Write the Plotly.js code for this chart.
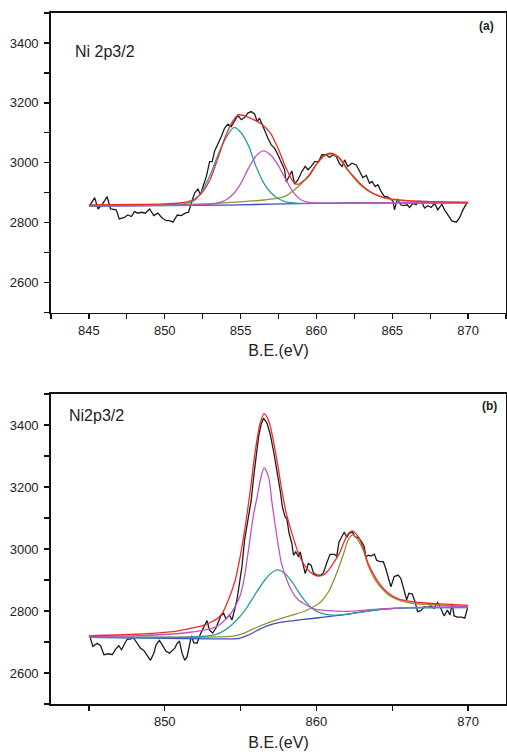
<!DOCTYPE html>
<html>
<head>
<meta charset="utf-8">
<script src="https://cdn.plot.ly/plotly-3.0.1.min.js"></script>
<style>
  html, body { margin: 0; padding: 0; background: #fff; }
  #chart { width: 507px; height: 752px; }
</style>
</head>
<body>
<div id="chart"></div>
<script>
// ---------- Panel (a): measured Ni 2p3/2 spectrum ----------
const aEnergy = [845.05,845.38,845.6,845.86,846.2,846.43,846.8,847.0,847.3,847.57,847.8,848.0,848.23,848.45,848.72,849.0,849.28,849.55,849.81,850.1,850.32,850.54,850.83,851.09,851.35,851.57,851.75,851.97,852.19,852.36,852.5,852.74,852.96,853.13,853.29,853.5,853.73,853.95,854.17,854.39,854.6,854.82,855.05,855.26,855.48,855.7,855.92,856.1,856.25,856.47,856.58,856.8,857.02,857.24,857.46,857.68,857.9,858.01,858.16,858.38,858.56,858.78,859.04,859.26,859.44,859.66,859.88,860.14,860.36,860.65,860.87,861.09,861.31,861.53,861.7,861.86,862.07,862.34,862.63,862.85,863.06,863.29,863.5,863.66,863.88,864.05,864.27,864.49,864.67,864.82,865.04,865.15,865.33,865.55,865.77,865.99,866.14,866.36,866.58,866.73,866.95,867.13,867.35,867.57,867.79,868.0,868.27,868.45,868.67,868.93,869.22,869.44,869.66,869.95];
const aCounts = [2857,2884,2846,2860,2887,2846,2843,2813,2817,2826,2821,2837,2832,2835,2832,2846,2824,2832,2817,2807,2807,2802,2826,2824,2832,2835,2865,2899,2913,2893,2918,2954,3004,3004,3040,3062,3088,3116,3129,3121,3138,3158,3144,3151,3166,3171,3163,3138,3149,3121,3105,3083,3060,3049,3027,2999,2977,2936,2949,2973,2929,2943,2971,2988,2977,2988,3004,3004,3027,3027,3018,3027,3021,2996,2988,3010,2988,2999,2993,2971,2951,2958,2932,2938,2921,2927,2904,2887,2887,2882,2873,2843,2880,2860,2857,2860,2851,2865,2860,2871,2869,2849,2857,2851,2865,2843,2862,2843,2824,2806,2802,2817,2843,2869];

// Panel (a) fitted components
const aBaseE = [845,850,854,856,858,860,862,866,870];
const aBase  = [2856,2857,2859,2861,2863,2865,2866,2867,2867];
const aPeak1E = [845,850,851,851.5,852,852.5,853,853.5,854,854.5,854.6,855,855.5,856,856.5,857,857.5,858,859,860,865,870];
const aPeak1  = [2857,2859,2861,2866,2876,2910,2960,3025,3080,3116,3118,3102,3060,2990,2935,2900,2880,2870,2865,2865,2866,2866];
const aPeak2E = [845,852,853,853.5,854,854.5,855,855.5,856,856.5,857,857.5,858,858.5,859,859.5,860,865,870];
const aPeak2  = [2857,2860,2862,2866,2875,2895,2930,2980,3022,3040,3025,2990,2943,2900,2876,2868,2866,2867,2867];
const aSatE = [845,850,853,855,856.5,857.5,858,858.5,859,859.5,860,860.5,860.9,861.3,861.8,862.2,862.6,863,863.5,864,864.5,865,866,868,870];
const aSat  = [2857,2860,2864,2870,2876,2882,2890,2908,2930,2960,2995,3022,3029,3024,2998,2968,2942,2922,2904,2891,2882,2877,2873,2870,2868];
const aEnvE = [845,848,850,851,851.5,852,852.5,853,853.5,854,854.5,854.85,855.2,855.6,856,856.5,857,857.5,858,858.5,858.75,859,859.5,860,860.5,860.9,861.3,861.6,862,862.5,863,863.5,864,864.5,865,866,867,868,870];
const aEnv  = [2860,2861,2863,2866,2870,2880,2903,2945,3015,3088,3140,3160,3158,3150,3141,3125,3097,3045,2982,2935,2928,2934,2955,2995,3024,3032,3026,3012,2980,2952,2925,2905,2892,2884,2879,2874,2871,2870,2868];

// ---------- Panel (b): measured Ni2p3/2 spectrum ----------
const bEnergy = [845.05,845.26,845.55,845.77,845.99,846.32,846.54,846.76,846.97,847.15,847.37,847.53,847.74,847.9,848.18,848.4,848.62,848.91,849.06,849.28,849.43,849.65,849.87,850.09,850.31,850.53,850.66,850.82,850.97,851.14,851.32,851.47,851.62,851.76,851.91,852.13,852.35,852.57,852.79,852.94,853.16,853.38,853.55,853.7,853.88,854.04,854.26,854.43,854.6,854.76,854.91,855.09,855.26,855.42,855.57,855.7,855.86,856.01,856.18,856.36,856.51,856.74,856.95,857.17,857.4,857.61,857.76,857.94,858.05,858.2,858.38,858.49,858.64,858.82,858.93,859.08,859.26,859.47,859.65,859.8,860.03,860.31,860.46,860.68,860.9,861.18,861.34,861.49,861.67,861.84,862.0,862.15,862.37,862.55,862.76,862.99,863.16,863.25,863.42,863.6,863.82,863.97,864.19,864.41,864.57,864.74,864.91,865.13,865.39,865.57,865.72,865.95,866.1,866.32,866.5,866.67,866.89,867.11,867.33,867.55,867.76,867.99,868.2,868.42,868.64,868.8,868.95,869.08,869.3,869.57,869.78,869.96];
const bCounts = [2720,2686,2696,2688,2659,2662,2659,2677,2688,2675,2696,2709,2709,2716,2696,2680,2673,2654,2641,2664,2691,2705,2686,2670,2664,2673,2680,2696,2702,2664,2641,2652,2691,2720,2698,2696,2726,2750,2769,2739,2729,2745,2766,2785,2793,2774,2787,2771,2803,2836,2884,2943,3028,3071,3125,3157,3232,3296,3360,3403,3422,3406,3371,3317,3253,3189,3135,3103,3098,3050,3018,2980,2991,2975,2991,2959,2921,2953,2948,2923,2916,2916,2923,2955,2983,2983,2977,3023,3039,3055,3037,3050,3055,3039,3037,3023,3007,2975,2980,2977,2983,2964,2959,2959,2937,2905,2878,2911,2916,2905,2878,2836,2857,2855,2830,2798,2801,2814,2812,2816,2809,2827,2809,2784,2803,2787,2823,2784,2780,2780,2777,2809];

// Panel (b) fitted components
const bBaseE = [845,850,853,854.3,854.9,855.5,856.2,856.8,857.6,858.5,859,860.3,862,863,864,865,866,867,870];
const bBase  = [2715,2712,2710,2710,2712,2722,2740,2753,2763,2769,2772,2779,2789,2797,2804,2808,2810,2811,2811];
const bPeak1E = [845,848,851.3,853.3,853.8,854.4,854.9,855.2,855.5,855.85,856.1,856.3,856.55,856.85,857.05,857.3,857.5,857.7,858.05,858.4,858.8,859.3,859.9,860.8,862,864,866,870];
const bPeak1  = [2718,2720,2729,2747,2763,2795,2840,2895,2990,3110,3170,3221,3262,3232,3157,3071,3007,2953,2900,2862,2836,2820,2806,2801,2799,2806,2811,2814];
const bPeak2E = [845,851.3,853.3,854,854.65,855.3,856,856.6,857,857.45,857.9,858.4,859,859.7,860.3,861,862,863,864,866,870];
const bPeak2  = [2715,2716,2723,2739,2766,2803,2857,2900,2922,2933,2922,2894,2848,2809,2793,2787,2790,2797,2804,2810,2812];
const bSatE = [845,853,854.5,855.2,856,856.8,857.6,858.5,859.25,859.9,860.3,860.8,861.1,861.45,861.8,862.1,862.4,862.75,863.1,863.4,863.85,864.3,864.75,865.4,866.3,867.4,868.5,870];
const bSat  = [2716,2716,2719,2728,2746,2762,2775,2788,2800,2816,2830,2862,2894,2937,2986,3030,3046,3028,2994,2948,2902,2873,2852,2836,2825,2821,2818,2815];
const bEnvE = [845,848,850,851,852,852.5,853,853.5,853.8,854.2,854.65,854.97,855.3,855.64,855.97,856.3,856.55,856.85,857.1,857.4,857.7,858,858.4,858.7,859,859.4,859.8,860.1,860.5,860.8,861.1,861.5,861.8,862.1,862.4,862.75,863.1,863.4,863.85,864.3,864.75,865.4,866.3,867.4,868.5,870];
const bEnv  = [2720,2725,2731,2737,2747,2753,2763,2777,2793,2836,2900,2975,3071,3189,3317,3408,3437,3414,3365,3285,3195,3118,3048,3002,2966,2935,2918,2913,2917,2932,2953,2985,3020,3050,3058,3040,3002,2955,2911,2879,2857,2839,2830,2825,2822,2818];

// ---------- styling ----------
const FONT = '"Liberation Sans", Arial, sans-serif';
const COL = {
  data: '#1c1c1c',
  env: '#ef2a2a',
  peak1: '#2b9e9b',
  peak2: '#bd56c0',
  sat: '#8e9337',
  base: '#3e4fbf'
};

function dataLine(x, y, xa, ya) {
  return { x, y, xaxis: xa, yaxis: ya, type: 'scatter', mode: 'lines',
           line: { color: COL.data, width: 1.3 }, hoverinfo: 'x+y' };
}
function fitLine(x, y, color, xa, ya) {
  return { x, y, xaxis: xa, yaxis: ya, type: 'scatter', mode: 'lines',
           line: { color, width: 1.3, shape: 'spline', smoothing: 0.8 } };
}

const traces = [
  dataLine(aEnergy, aCounts, 'x', 'y'),
  fitLine(aBaseE, aBase, COL.base, 'x', 'y'),
  fitLine(aSatE, aSat, COL.sat, 'x', 'y'),
  fitLine(aPeak1E, aPeak1, COL.peak1, 'x', 'y'),
  fitLine(aPeak2E, aPeak2, COL.peak2, 'x', 'y'),
  fitLine(aEnvE, aEnv, COL.env, 'x', 'y'),

  dataLine(bEnergy, bCounts, 'x2', 'y2'),
  fitLine(bBaseE, bBase, COL.base, 'x2', 'y2'),
  fitLine(bSatE, bSat, COL.sat, 'x2', 'y2'),
  fitLine(bPeak2E, bPeak2, COL.peak1, 'x2', 'y2'),
  fitLine(bPeak1E, bPeak1, COL.peak2, 'x2', 'y2'),
  fitLine(bEnvE, bEnv, COL.env, 'x2', 'y2')
];

const tickFont = { family: FONT, size: 13, color: '#222' };
function xAxis(anchor, dtick, minorDtick) {
  return {
    anchor, range: [842.5, 872.5], showgrid: false, zeroline: false,
    showline: true, linecolor: '#111', linewidth: 1.8, mirror: true,
    ticks: 'outside', ticklen: 5, tickwidth: 1.2, tickcolor: '#111',
    tick0: 0, dtick,
    minor: { ticks: 'outside', dtick: minorDtick, ticklen: 5, tickwidth: 1.2, tickcolor: '#111' },
    tickfont: tickFont,
    title: { text: 'B.E.(eV)', font: { family: FONT, size: 16, color: '#222' }, standoff: 8 }
  };
}
function yAxis(anchor, domain) {
  return {
    anchor, domain, range: [2500, 3500], showgrid: false, zeroline: false,
    showline: true, linecolor: '#111', linewidth: 1.8, mirror: true,
    ticks: 'outside', ticklen: 5, tickwidth: 1.2, tickcolor: '#111',
    tick0: 0, dtick: 200,
    minor: { ticks: 'outside', dtick: 100, ticklen: 5, tickwidth: 1.2, tickcolor: '#111' },
    tickfont: tickFont, ticklabelstandoff: 3
  };
}

const layout = {
  width: 507, height: 752,
  margin: { l: 51, r: 1, t: 13, b: 48 },
  paper_bgcolor: '#fff', plot_bgcolor: '#fff',
  showlegend: false,
  xaxis: xAxis('y', 5, 2.5),
  yaxis: yAxis('x', [0.5663, 1]),
  xaxis2: xAxis('y2', 10, 5),
  yaxis2: yAxis('x2', [0, 0.4486]),
  annotations: [
    { xref: 'x domain', yref: 'y domain', x: 0.049, y: 0.87, xanchor: 'left', yanchor: 'middle',
      text: 'Ni 2p3/2', showarrow: false, font: { family: FONT, size: 16, color: '#222' } },
    { xref: 'x domain', yref: 'y domain', x: 0.978, y: 0.957, xanchor: 'right', yanchor: 'middle',
      text: '<b>(a)</b>', showarrow: false, font: { family: FONT, size: 12, color: '#222' } },
    { xref: 'x2 domain', yref: 'y2 domain', x: 0.035, y: 0.93, xanchor: 'left', yanchor: 'middle',
      text: 'Ni2p3/2', showarrow: false, font: { family: FONT, size: 16, color: '#222' } },
    { xref: 'x2 domain', yref: 'y2 domain', x: 0.985, y: 0.962, xanchor: 'right', yanchor: 'middle',
      text: '<b>(b)</b>', showarrow: false, font: { family: FONT, size: 12, color: '#222' } }
  ]
};

Plotly.newPlot('chart', traces, layout, { displayModeBar: false, staticPlot: true });
</script>
</body>
</html>
